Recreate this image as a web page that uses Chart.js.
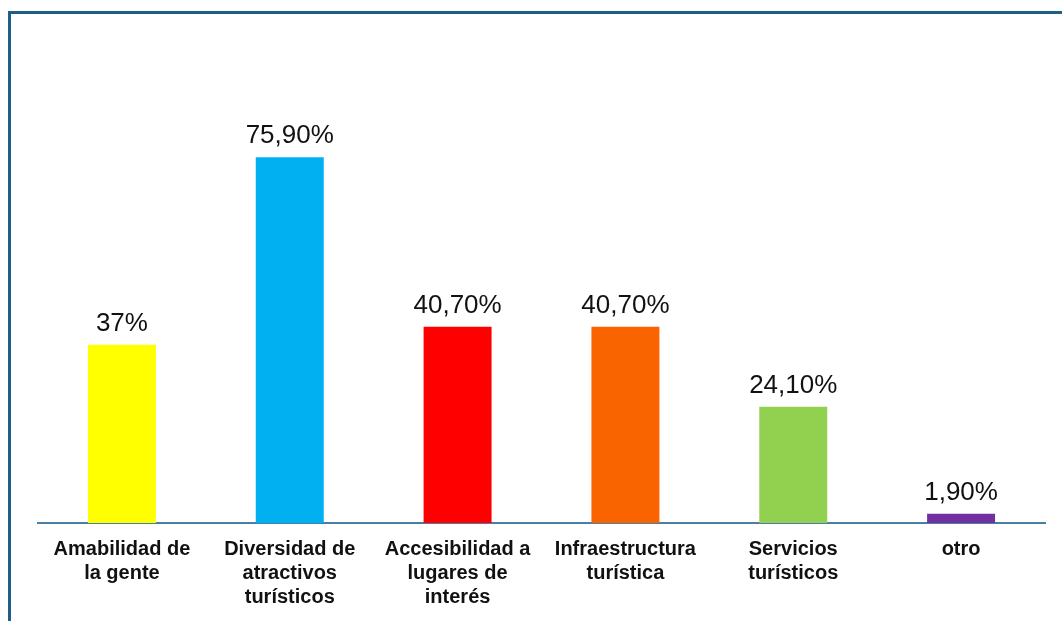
<!DOCTYPE html>
<html>
<head>
<meta charset="utf-8">
<script src="https://cdn.jsdelivr.net/npm/chart.js@4.4.0/dist/chart.umd.min.js"></script>
<style>
  html, body { margin: 0; padding: 0; background: #fff; overflow: hidden; }
  #wrap { position: relative; width: 1062px; height: 621px; }
  #frame {
    position: absolute; left: 8px; top: 11px; width: 1080px; height: 640px;
    border-left: 3px solid #1d5f86; border-top: 3px solid #1d5f86;
  }
  canvas { position: absolute; left: 0; top: 0; }
</style>
</head>
<body>
<div id="wrap">
  <div id="frame"></div>
  <canvas id="chart" width="1062" height="621"></canvas>
</div>
<script>
const categories = [
  ['Amabilidad de', 'la gente'],
  ['Diversidad de', 'atractivos', 'turísticos'],
  ['Accesibilidad a', 'lugares de', 'interés'],
  ['Infraestructura', 'turística'],
  ['Servicios', 'turísticos'],
  'otro',
];
const values = [37, 75.9, 40.7, 40.7, 24.1, 1.9];
const valueLabels = ['37%', '75,90%', '40,70%', '40,70%', '24,10%', '1,90%'];
const barColors = ['#ffff00', '#00b0f0', '#ff0000', '#fa6400', '#92d050', '#7030a0'];

// draw the percentage text above each bar
const topLabels = {
  id: 'topLabels',
  afterDatasetsDraw(chart) {
    const { ctx } = chart;
    const meta = chart.getDatasetMeta(0);
    ctx.save();
    ctx.font = '26px "Liberation Sans", Arial, sans-serif';
    ctx.fillStyle = '#111';
    ctx.textAlign = 'center';
    ctx.textBaseline = 'alphabetic';
    meta.data.forEach((bar, i) => {
      ctx.fillText(valueLabels[i], bar.x, bar.y - 14);
    });
    ctx.restore();
  },
};

new Chart(document.getElementById('chart'), {
  type: 'bar',
  data: {
    labels: categories,
    datasets: [{
      data: values,
      backgroundColor: barColors,
      borderWidth: 0,
      categoryPercentage: 1,
      barPercentage: 0.405,
    }],
  },
  plugins: [topLabels],
  options: {
    responsive: false,
    animation: false,
    layout: { padding: { left: 38, right: 17, top: 41, bottom: 0 } },
    plugins: {
      legend: { display: false },
      tooltip: { enabled: false },
    },
    scales: {
      y: {
        display: false,
        min: 0,
        max: 100,
      },
      x: {
        afterFit(scale) { scale.height = 98; },
        grid: { display: false, drawTicks: false, tickLength: 0 },
        border: { display: true, color: '#4a7fa3', width: 2 },
        ticks: {
          padding: 14,
          maxRotation: 0,
          autoSkip: false,
          color: '#111',
          font: { family: '"Liberation Sans", Arial, sans-serif', size: 20, weight: 'bold', lineHeight: 1.2 },
        },
      },
    },
  },
});
</script>
</body>
</html>
